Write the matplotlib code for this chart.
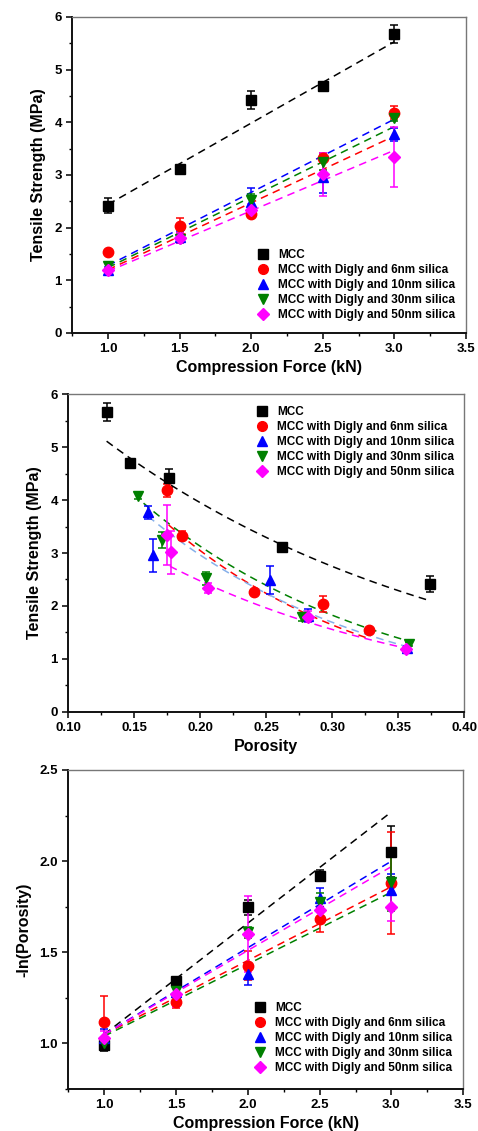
#!/usr/bin/env python3

import matplotlib
matplotlib.use('Agg')
import matplotlib.pyplot as plt
from matplotlib.lines import Line2D
from matplotlib.ticker import MultipleLocator
import numpy as np

plt.rcParams['font.family'] = ['Liberation Sans', 'DejaVu Sans']
plt.rcParams['font.weight'] = 'bold'

labels = ['MCC',
          'MCC with Digly and 6nm silica',
          'MCC with Digly and 10nm silica',
          'MCC with Digly and 30nm silica',
          'MCC with Digly and 50nm silica']
colors = ['#000000', '#ff0000', '#0000ff', '#008000', '#ff00ff']
markers = ['s', 'o', '^', 'v', 'D']

force = [1.0, 1.5, 2.0, 2.5, 3.0]

# tensile strength (MPa) and its error, one list per formulation
ts_mcc = [2.42, 3.11, 4.42, 4.69, 5.67]
ts_6nm = [1.54, 2.04, 2.26, 3.33, 4.18]
ts_10nm = [1.20, 1.82, 2.49, 2.96, 3.77]
ts_30nm = [1.28, 1.79, 2.52, 3.25, 4.08]
ts_50nm = [1.19, 1.80, 2.34, 3.01, 3.34]
ts_err_mcc = [0.15, 0.04, 0.17, 0.04, 0.17]
ts_err_6nm = [0.04, 0.15, 0.05, 0.08, 0.12]
ts_err_10nm = [0.05, 0.12, 0.27, 0.31, 0.12]
ts_err_30nm = [0.04, 0.08, 0.12, 0.15, 0.06]
ts_err_50nm = [0.04, 0.10, 0.10, 0.40, 0.57]

# porosity for the same tablets
por_mcc = [0.374, 0.262, 0.176, 0.147, 0.1295]
por_6nm = [0.328, 0.293, 0.241, 0.186, 0.175]
por_10nm = [0.357, 0.282, 0.253, 0.164, 0.160]
por_30nm = [0.358, 0.277, 0.204, 0.171, 0.153]
por_50nm = [0.356, 0.282, 0.206, 0.178, 0.1745]

# -ln(porosity) and its error
lnp_mcc = [0.99, 1.344, 1.746, 1.92, 2.052]
lnp_6nm = [1.12, 1.225, 1.426, 1.68, 1.88]
lnp_10nm = [1.03, 1.28, 1.38, 1.80, 1.84]
lnp_30nm = [1.00, 1.29, 1.61, 1.775, 1.885]
lnp_50nm = [1.03, 1.27, 1.60, 1.73, 1.75]
lnp_err_mcc = [0.03, 0.02, 0.04, 0.03, 0.14]
lnp_err_6nm = [0.14, 0.03, 0.08, 0.07, 0.28]
lnp_err_10nm = [0.05, 0.04, 0.06, 0.05, 0.09]
lnp_err_30nm = [0.03, 0.03, 0.03, 0.05, 0.16]
lnp_err_50nm = [0.04, 0.07, 0.21, 0.05, 0.08]

# fitted trend lines
# linear fits: value at 1.0 kN and at 3.0 kN
ts_fit = [(2.44, 5.53), (1.20, 3.74), (1.28, 4.06), (1.24, 3.92), (1.17, 3.47)]
lnp_fit = [(1.05, 2.27), (1.05, 1.86), (1.05, 2.00), (1.04, 1.83), (1.05, 1.97)]
# exponential fits: (porosity start, value, porosity end, value)
por_fit = [(0.129, 5.11, 0.374, 2.10),
           (0.176, 3.53, 0.326, 1.40),
           (0.1606, 3.69, 0.360, 1.21),
           (0.157, 3.94, 0.359, 1.33),
           (0.177, 2.75, 0.360, 1.18)]
por_fit_colors = ['#000000', '#ff0000', '#86b0ea', '#008000', '#ff00ff']

ts_all = [ts_mcc, ts_6nm, ts_10nm, ts_30nm, ts_50nm]
ts_err_all = [ts_err_mcc, ts_err_6nm, ts_err_10nm, ts_err_30nm, ts_err_50nm]
por_all = [por_mcc, por_6nm, por_10nm, por_30nm, por_50nm]
lnp_all = [lnp_mcc, lnp_6nm, lnp_10nm, lnp_30nm, lnp_50nm]
lnp_err_all = [lnp_err_mcc, lnp_err_6nm, lnp_err_10nm, lnp_err_30nm, lnp_err_50nm]

TICK_SIZE = 9.5
LABEL_SIZE = 11.5
LEGEND_SIZE = 8.5


def style_axes(ax, xmajor, xminor, ymajor, yminor):
    ax.xaxis.set_major_locator(MultipleLocator(xmajor))
    ax.xaxis.set_minor_locator(MultipleLocator(xminor))
    ax.yaxis.set_major_locator(MultipleLocator(ymajor))
    ax.yaxis.set_minor_locator(MultipleLocator(yminor))
    ax.tick_params(which='major', direction='out', length=4, width=1.1,
                   labelsize=TICK_SIZE, pad=3.5)
    ax.tick_params(which='minor', direction='out', length=2.5, width=1.0)
    for side in ('left', 'bottom'):
        ax.spines[side].set_linewidth(1.4)
        ax.spines[side].set_color('#111111')
    for side in ('top', 'right'):
        ax.spines[side].set_linewidth(1.0)
        ax.spines[side].set_color('#777777')
    for lab in ax.get_xticklabels() + ax.get_yticklabels():
        lab.set_fontweight('bold')


def add_legend(ax, x, y):
    handles = [Line2D([], [], linestyle='none', marker=m, color=c,
                      markersize=7 if m != 'D' else 6)
               for m, c in zip(markers, colors)]
    ax.legend(handles, labels, loc='upper left', bbox_to_anchor=(x, y),
              frameon=False, borderpad=0, borderaxespad=0,
              handlelength=0.9, handletextpad=0.8, labelspacing=0.26,
              prop={'size': LEGEND_SIZE, 'weight': 'bold'})


def draw_points(ax, xs, ys, errs):
    for x, y, e, c, m in zip(xs, ys, errs, colors, markers):
        ax.errorbar(x, y, yerr=e, fmt=m, color=c, ecolor=c,
                    markersize=7.5 if m != 'D' else 6.5, capsize=3,
                    elinewidth=1.1, capthick=1.1, zorder=3)


fig = plt.figure(figsize=(4.78, 11.31), dpi=100)

# panel 1: tensile strength vs compression force
ax1 = fig.add_axes([0.151, 0.7056, 0.824, 0.2794])
for (y0, y1), c in zip(ts_fit, colors):
    ax1.plot([force[0], force[-1]], [y0, y1], linestyle=(0, (5, 3.5)),
             color=c, linewidth=1.1, zorder=2)
draw_points(ax1, [force] * 5, ts_all, ts_err_all)
ax1.set_xlim(0.75, 3.5)
ax1.set_ylim(0, 6)
style_axes(ax1, 0.5, 0.25, 1, 0.5)
ax1.xaxis.set_major_formatter(lambda v, p: f'{v:.1f}')
ax1.set_xlabel('Compression Force (kN)', fontsize=LABEL_SIZE, fontweight='bold', labelpad=3)
ax1.set_ylabel('Tensile Strength (MPa)', fontsize=LABEL_SIZE, fontweight='bold', labelpad=6)
add_legend(ax1, 0.472, 0.266)

# panel 2: tensile strength vs porosity
ax2 = fig.add_axes([0.143, 0.3705, 0.828, 0.2811])
for (p0, y0, p1, y1), c in zip(por_fit, por_fit_colors):
    p = np.linspace(p0, p1, 60)
    ax2.plot(p, y0 * (y1 / y0) ** ((p - p0) / (p1 - p0)), linestyle=(0, (5, 3.5)),
             color=c, linewidth=1.1, zorder=2)
draw_points(ax2, por_all, ts_all, ts_err_all)
ax2.set_xlim(0.10, 0.40)
ax2.set_ylim(0, 6)
style_axes(ax2, 0.05, 0.025, 1, 0.5)
ax2.xaxis.set_major_formatter(lambda v, p: f'{v:.2f}')
ax2.set_xlabel('Porosity', fontsize=LABEL_SIZE, fontweight='bold', labelpad=3)
ax2.set_ylabel('Tensile Strength (MPa)', fontsize=LABEL_SIZE, fontweight='bold', labelpad=6)
add_legend(ax2, 0.476, 0.963)

# panel 3: -ln(porosity) vs compression force
ax3 = fig.add_axes([0.143, 0.0371, 0.826, 0.2821])
for (y0, y1), c in zip(lnp_fit, colors):
    ax3.plot([force[0], force[-1]], [y0, y1], linestyle=(0, (5, 3.5)),
             color=c, linewidth=1.1, zorder=2)
draw_points(ax3, [force] * 5, lnp_all, lnp_err_all)
ax3.set_xlim(0.75, 3.5)
ax3.set_ylim(0.75, 2.5)
style_axes(ax3, 0.5, 0.25, 0.5, 0.25)
ax3.xaxis.set_major_formatter(lambda v, p: f'{v:.1f}')
ax3.yaxis.set_major_formatter(lambda v, p: f'{v:.1f}')
ax3.set_xlabel('Compression Force (kN)', fontsize=LABEL_SIZE, fontweight='bold', labelpad=3)
ax3.set_ylabel('-ln(Porosity)', fontsize=LABEL_SIZE, fontweight='bold', labelpad=6)
add_legend(ax3, 0.473, 0.273)

fig.savefig('out.png', dpi=100)
